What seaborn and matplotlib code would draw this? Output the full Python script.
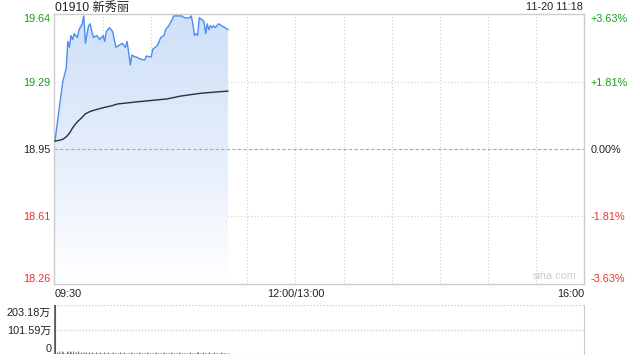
import numpy as np
import pandas as pd
import matplotlib
matplotlib.use("Agg")
import matplotlib.pyplot as plt
import matplotlib.transforms as mtransforms
import seaborn as sns
from matplotlib.colors import LinearSegmentedColormap

# ---------------- data ----------------
title_text = "01910 新秀丽"
stamp_text = "11-20 11:18"
prev_close = 18.95

# trading minutes since 09:30 (HK session 330 min)
price_t = [0, 3, 5, 7, 8, 9, 10, 11, 12, 14, 15, 17, 18, 19, 20, 21, 22, 23, 24, 26,
           28, 30, 31, 32, 34, 36, 38, 40, 42, 44, 45, 46, 47, 48, 50, 51, 53, 56, 57, 60,
           61, 64, 66, 68, 69, 71, 73, 74, 79, 81, 84, 85, 86, 87, 88, 89, 90, 92, 93, 94,
           95, 96, 97, 98, 99, 100, 102, 104, 106, 108]
price_v = [18.99, 19.18, 19.30, 19.36, 19.50, 19.47, 19.53, 19.51, 19.54, 19.52,
           19.56, 19.59, 19.63, 19.49, 19.54, 19.58, 19.59, 19.55, 19.52, 19.53,
           19.51, 19.53, 19.50, 19.55, 19.57, 19.55, 19.47, 19.48, 19.49, 19.47,
           19.50, 19.44, 19.38, 19.43, 19.42, 19.42, 19.41, 19.405, 19.425, 19.42,
           19.46, 19.48, 19.52, 19.53, 19.56, 19.58, 19.61, 19.63, 19.63, 19.62,
           19.62, 19.63, 19.59, 19.53, 19.54, 19.53, 19.62, 19.61, 19.60, 19.54,
           19.59, 19.56, 19.58, 19.57, 19.58, 19.57, 19.59, 19.58, 19.57, 19.56]

avg_t = [0, 3, 5, 7, 9, 11, 13, 15, 17, 19, 22, 26, 31, 35, 39, 50, 60, 70, 78, 91, 100, 108]
avg_v = [18.99, 18.995, 19.00, 19.012, 19.03, 19.058, 19.08, 19.097, 19.112, 19.13,
         19.142, 19.152, 19.163, 19.17, 19.18, 19.19, 19.198, 19.206, 19.22, 19.235,
         19.241, 19.246]

# volume per minute (万股)
vol_t = list(range(0, 109))
vol_v = [203.18,
         9, 12, 6, 14, 10, 5, 12, 9, 13, 7, 11, 6, 8, 12, 6, 9, 5, 7, 10, 6,
         8, 5, 7, 6, 9, 5, 6, 8, 5, 7, 6, 5, 8, 6, 5, 7, 6, 5, 6, 8,
         5, 6, 7, 5, 6, 5, 7, 6, 5, 6, 5, 7, 5, 6, 5, 6, 7, 5, 6, 5,
         6, 5, 7, 6, 5, 6, 5, 8, 6, 5, 6, 7, 5, 6, 5, 6, 7, 6, 5, 6,
         5, 6, 5, 7, 6, 5, 6, 8, 10, 6, 5, 7, 6, 5, 6, 7, 5, 6, 8, 6,
         5, 6, 7, 5, 6, 5, 6, 5]

price_ticks = [19.64, 19.29, 18.95, 18.61, 18.26]
price_labels = ["19.64", "19.29", "18.95", "18.61", "18.26"]
pct_labels = ["+3.63%", "+1.81%", "0.00%", "-1.81%", "-3.63%"]
tick_colors = ["#1a9e1a", "#1a9e1a", "#222222", "#f0302c", "#f0302c"]
x_tick_pos = [0, 150, 330]
x_tick_labels = ["09:30", "12:00/13:00", "16:00"]
vol_ticks = [0, 101.59, 203.18]
vol_labels = ["0", "101.59万", "203.18万"]

# ---------------- style ----------------
sns.set_style("white")
plt.rcParams["font.family"] = ["Liberation Sans", "Noto Sans CJK SC", "DejaVu Sans"]

FS = 7.8
W, H = 640, 360
fig = plt.figure(figsize=(6.4, 3.6), dpi=100)

def rect(x0, y0, x1, y1):
    return [x0 / W, 1 - y1 / H, (x1 - x0) / W, (y1 - y0) / H]

ax = fig.add_axes(rect(54, 14, 584, 284))
axv = fig.add_axes(rect(54, 305, 584, 354))

XMIN, XMAX = -0.6, 330
YMIN, YMAX = 18.26, 19.64

df_p = pd.DataFrame({"t": price_t, "p": price_v})
df_a = pd.DataFrame({"t": avg_t, "p": avg_v})

# gradient fill under price line
poly = ax.fill_between(df_p["t"], df_p["p"], YMIN, color="none", lw=0)
cmap = LinearSegmentedColormap.from_list("g", ["#ffffff", "#e4edfb", "#cfe0f8"])
grad = np.linspace(0, 1, 256).reshape(-1, 1)
img = ax.imshow(grad, extent=[df_p["t"].min(), df_p["t"].max(), YMIN, YMAX],
                origin="lower", aspect="auto", cmap=cmap, zorder=1)
img.set_clip_path(poly.get_paths()[0], transform=ax.transData)

sns.lineplot(data=df_p, x="t", y="p", ax=ax, color="#4c8df2", lw=1.0, zorder=3)
sns.lineplot(data=df_a, x="t", y="p", ax=ax, color="#27313d", lw=1.0, zorder=3)

ax.set_xlim(XMIN, XMAX)
ax.set_ylim(YMIN, YMAX)
ax.set_xlabel("")
ax.set_ylabel("")

# grid
for gx in range(30, 330, 30):
    ax.axvline(gx, color="#cfcfcf", lw=0.8, ls=(0, (1, 2)), zorder=0.5)
for gy in [19.29, 18.61]:
    ax.axhline(gy, color="#cfcfcf", lw=0.8, ls=(0, (1, 2)), zorder=0.5)
ax.axhline(prev_close, color="#a8a8a8", lw=0.8, ls=(0, (3, 2)), zorder=2)

for s in ax.spines.values():
    s.set_color("#cccccc")
    s.set_linewidth(1.0)

ax.set_yticks(price_ticks)
ax.set_yticklabels(price_labels, fontsize=FS)
ax.tick_params(axis="y", length=0, pad=2.5)
for lab, c, tv in zip(ax.get_yticklabels(), tick_colors, price_ticks):
    lab.set_color(c)
    if tv == YMAX:
        lab.set_va("top")
    elif tv == YMIN:
        lab.set_va("bottom")

ax.set_xticks(x_tick_pos)
ax.set_xticklabels(x_tick_labels, fontsize=FS, color="#222222")
ax.tick_params(axis="x", length=0, pad=3.5)
for lab, ha in zip(ax.get_xticklabels(), ["left", "center", "right"]):
    lab.set_ha(ha)

axr = ax.twinx()
axr.set_ylim(YMIN, YMAX)
axr.set_yticks(price_ticks)
axr.set_yticklabels(pct_labels, fontsize=FS)
axr.tick_params(axis="y", length=0, pad=5)
for lab, c, tv in zip(axr.get_yticklabels(), tick_colors, price_ticks):
    lab.set_color(c)
    if tv == YMAX:
        lab.set_va("top")
    elif tv == YMIN:
        lab.set_va("bottom")
for s in axr.spines.values():
    s.set_visible(False)

ax.text(0.985, 0.01, "sina.com", transform=ax.transAxes, ha="right", va="bottom",
        fontsize=FS, color="#cccccc")

fig.text(55 / W, 1 - 7.5 / H, title_text, ha="left", va="center", fontsize=8.8, color="#222222")
fig.text(583 / W, 1 - 7.5 / H, stamp_text, ha="right", va="center", fontsize=FS, color="#222222")

# ---------------- volume ----------------
df_v = pd.DataFrame({"t": vol_t, "v": vol_v})
axv.vlines(df_v["t"] + 0.3, 0, df_v["v"], color="#777777", lw=0.8)
axv.vlines([0.3], 0, [vol_v[0]], color="#555555", lw=1.2)
axv.set_xlim(XMIN, XMAX)
axv.set_ylim(0, 203.18)
for gy in vol_ticks:
    axv.axhline(gy, color="#c8c8c8", lw=0.9, ls=(0, (1, 1.5)), zorder=0.5)
for k, s in axv.spines.items():
    s.set_visible(k == "right")
axv.spines["right"].set_color("#cccccc")
axv.set_xticks([])
axv.set_yticks(vol_ticks)
axv.set_yticklabels(vol_labels, fontsize=FS, color="#222222")
axv.tick_params(axis="y", length=0, pad=2)
down = mtransforms.ScaledTranslation(0, -3 / 100, fig.dpi_scale_trans)
for lab, tv in zip(axv.get_yticklabels(), vol_ticks):
    if tv == 203.18:
        lab.set_va("top")
        lab.set_transform(lab.get_transform() + down)
    elif tv == 0:
        lab.set_va("bottom")

fig.savefig("out.png", dpi=100)
